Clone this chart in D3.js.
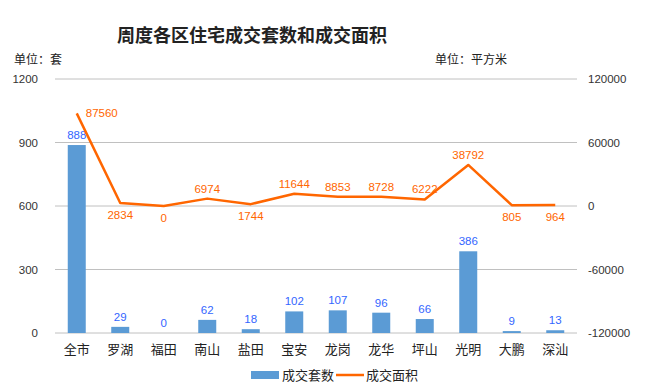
<!DOCTYPE html>
<html>
<head>
<meta charset="utf-8">
<script src="https://cdn.jsdelivr.net/npm/d3@7"></script>
<style>
  html, body { margin: 0; padding: 0; background: #fff; }
  text { font-family: "Liberation Sans", "Noto Sans CJK SC", sans-serif; }
</style>
</head>
<body>
<div id="chart"></div>
<script>
const districts = ["全市", "罗湖", "福田", "南山", "盐田", "宝安", "龙岗", "龙华", "坪山", "光明", "大鹏", "深汕"];
const unitCounts = [888, 29, 0, 62, 18, 102, 107, 96, 66, 386, 9, 13];
const areaValues = [87560, 2834, 0, 6974, 1744, 11644, 8853, 8728, 6222, 38792, 805, 964];
const leftTicks = [0, 300, 600, 900, 1200];
const rightTicks = [-120000, -60000, 0, 60000, 120000];
// where each area label sits relative to its point
const areaLabelPos = ["right", "below", "below", "above", "below", "above", "above", "above", "above", "above", "below", "below"];

const W = 646, H = 387;
const margin = {top: 79, right: 69, bottom: 54, left: 55};
const width = W - margin.left - margin.right,
      height = H - margin.top - margin.bottom;

const svg = d3.select("#chart").append("svg")
    .attr("width", W).attr("height", H);

svg.append("text")
    .attr("x", 252).attr("y", 42)
    .attr("text-anchor", "middle")
    .attr("font-size", 18).attr("font-weight", "bold")
    .attr("fill", "#222")
    .style("font-family", "'Noto Sans CJK SC', sans-serif")
    .text("周度各区住宅成交套数和成交面积");

svg.append("text").attr("x", 14).attr("y", 64)
    .attr("font-size", 12).attr("fill", "#222")
    .style("font-family", "'Noto Sans CJK SC', sans-serif")
    .text("单位：套");
svg.append("text").attr("x", 507).attr("y", 64)
    .attr("text-anchor", "end")
    .attr("font-size", 12).attr("fill", "#222")
    .style("font-family", "'Noto Sans CJK SC', sans-serif")
    .text("单位：平方米");

const g = svg.append("g").attr("transform", `translate(${margin.left},${margin.top})`);

const x = d3.scaleBand().domain(districts).range([0, width]);
const yL = d3.scaleLinear().domain([0, 1200]).range([height, 0]);
const yR = d3.scaleLinear().domain([-120000, 120000]).range([height, 0]);

// gridlines
g.selectAll(".grid").data(leftTicks).enter().append("line")
    .attr("x1", 0).attr("x2", width)
    .attr("y1", d => yL(d)).attr("y2", d => yL(d))
    .attr("stroke", "#c0c0c0").attr("stroke-width", 1);

// left axis
const axL = g.append("g").call(d3.axisLeft(yL).tickValues(leftTicks).tickFormat(d => d).tickSize(0).tickPadding(17));
axL.select(".domain").remove();
axL.selectAll("text").attr("font-size", 11.5).attr("fill", "#333")
    .style("font-family", "'Liberation Sans', sans-serif");

// right axis
const axR = g.append("g").attr("transform", `translate(${width},0)`)
    .call(d3.axisRight(yR).tickValues(rightTicks).tickFormat(d => d).tickSize(0).tickPadding(11));
axR.select(".domain").remove();
axR.selectAll("text").attr("font-size", 11.5).attr("fill", "#333")
    .style("font-family", "'Liberation Sans', sans-serif");

// bottom axis
const axB = g.append("g").attr("transform", `translate(0,${height})`)
    .call(d3.axisBottom(x).tickSize(0).tickPadding(12));
axB.select(".domain").remove();
axB.selectAll("text").attr("font-size", 13).attr("fill", "#222")
    .style("font-family", "'Noto Sans CJK SC', sans-serif");

// bars
const barW = 18;
g.selectAll(".bar").data(unitCounts).enter().append("rect")
    .attr("x", (d, i) => x(districts[i]) + x.bandwidth() / 2 - barW / 2)
    .attr("width", barW)
    .attr("y", d => yL(d))
    .attr("height", d => height - yL(d))
    .attr("fill", "#5b9bd5");

g.selectAll(".barLabel").data(unitCounts).enter().append("text")
    .attr("x", (d, i) => x(districts[i]) + x.bandwidth() / 2)
    .attr("y", d => yL(d) - 6)
    .attr("text-anchor", "middle")
    .attr("font-size", 11.5).attr("fill", "#3366ff")
    .text(d => d);

// line
const pts = areaValues.map((d, i) => [x(districts[i]) + x.bandwidth() / 2, yR(d)]);
g.append("path").datum(pts)
    .attr("d", d3.line())
    .attr("fill", "none").attr("stroke", "#ff6600").attr("stroke-width", 2.5)
    .attr("stroke-linejoin", "round");

g.selectAll(".areaLabel").data(areaValues).enter().append("text")
    .attr("x", (d, i) => pts[i][0] + (areaLabelPos[i] === "right" ? 9 : 0))
    .attr("y", (d, i) => {
        const p = areaLabelPos[i];
        if (p === "right") return pts[i][1] + 4;
        if (p === "above") return pts[i][1] - 6;
        return pts[i][1] + 16;
    })
    .attr("text-anchor", (d, i) => areaLabelPos[i] === "right" ? "start" : "middle")
    .attr("font-size", 11.5).attr("fill", "#ff6600")
    .text(d => d);

// legend
const leg = svg.append("g");
leg.append("rect").attr("x", 251).attr("y", 371).attr("width", 28).attr("height", 8).attr("fill", "#5b9bd5");
leg.append("text").attr("x", 282).attr("y", 380).attr("font-size", 13).attr("fill", "#222")
    .style("font-family", "'Noto Sans CJK SC', sans-serif").text("成交套数");
leg.append("line").attr("x1", 336).attr("x2", 364).attr("y1", 375).attr("y2", 375)
    .attr("stroke", "#ff6600").attr("stroke-width", 2.5);
leg.append("text").attr("x", 366).attr("y", 380).attr("font-size", 13).attr("fill", "#222")
    .style("font-family", "'Noto Sans CJK SC', sans-serif").text("成交面积");
</script>
</body>
</html>
